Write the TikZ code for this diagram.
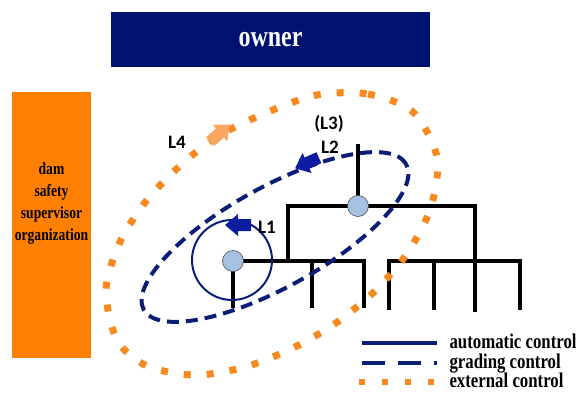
\documentclass[tikz,border=0pt]{standalone}
\usepackage{fontspec}
\newfontfamily\legendfont{Liberation Serif}[FakeStretch=0.8]
\newfontfamily\labelfont{Carlito}
\definecolor{ownerblue}{RGB}{0,18,112}
\definecolor{dssorange}{RGB}{255,128,0}
\definecolor{dotorange}{RGB}{246,138,30}
\definecolor{lightarrow}{RGB}{248,166,96}
\definecolor{navyline}{RGB}{10,30,120}
\definecolor{arrowblue}{RGB}{12,28,160}
\definecolor{jointblue}{RGB}{166,194,226}
\newcommand{\blockarrow}[3]{\fill[#1, shift={#2}, rotate=#3] (-13,-6) -- (0,-6) -- (0,-11) -- (13,0) -- (0,11) -- (0,6) -- (-13,6) -- cycle;}
\tikzset{
  tree/.style={line width=4pt, line join=miter},
  joint/.style={circle, draw=black!70, line width=0.6pt, fill=jointblue, minimum size=21pt, inner sep=0pt},
  autoline/.style={navyline, line width=2pt},
  gradingline/.style={navyline, line width=4pt, dash pattern=on 12pt off 7pt},
  externalline/.style={dotorange, line width=7pt, dash pattern=on 7pt off 16pt},
  loop label/.style={font=\labelfont\bfseries\fontsize{19}{19}\selectfont},
  legend text/.style={anchor=base west, font=\legendfont\bfseries\fontsize{21}{21}\selectfont}
}
\begin{document}
\begin{tikzpicture}[x=1pt,y=-1pt]
  \useasboundingbox (0,0) rectangle (576,394);
  \node[fill=ownerblue, minimum width=319pt, minimum height=55pt, inner sep=0pt, text=white, font=\legendfont\bfseries\fontsize{30}{30}\selectfont] (owner) at (270.5,39.5) {owner}; %Proprietaire
  \node[fill=dssorange, minimum width=79pt, minimum height=266pt, inner sep=0pt] (dsso) at (51.5,225) {}; %Organisme
  \node[align=center, font=\legendfont\bfseries\fontsize{17}{22}\selectfont] (dssotext) at ([yshift=22pt]dsso.center) {dam\\safety\\supervisor\\organization};
  \coordinate (p1) at (233,261);
  \coordinate (p2) at (358,206);
  \draw[tree] (p1) -- (233,308); %Pied gauche
  \draw[tree] (p1) -- (364,261) -- (364,308);
  \draw[tree] (312,261) -- (312,308);
  \draw[tree] (288,261) -- (288,206) -- (475,206) -- (475,312); %Branche haute
  \draw[tree] (p2) -- (358,144);
  \draw[tree] (389,310) -- (389,261) -- (520,261) -- (520,310); %Groupe droit
  \draw[tree] (434,261) -- (434,310);
  \draw[autoline] (232,260) circle[radius=40pt]; %L1
  \draw[gradingline, rotate around={29:(275,237)}] (275,237) ellipse[x radius=150pt, y radius=50pt]; %L2
  \draw[externalline] plot[smooth cycle] coordinates {(317,95) (368,94) (413,112) (437,157) (431,207) (408,252) (376,290) (336,323) (293,348) (245,367) (195,375) (147,366) (117,340) (106,290) (120,242) (147,200) (183,163) (220,135) (268,112)}; %L4
  \node[joint] (joint1) at (p1) {};
  \node[joint] (joint2) at (p2) {};
  \blockarrow{arrowblue}{(238,225)}{180}
  \blockarrow{arrowblue}{(307,163)}{204}
  \blockarrow{lightarrow}{(220,133)}{41}
  \node[loop label] (L1) at (267,227) {L1};
  \node[loop label] (L2) at (330,147) {L2};
  \node[loop label] (L3) at (329,124) {(L3)};
  \node[loop label] (L4) at (177,142) {L4};
  \draw[autoline, line width=3.5pt] (362,343) -- (437,343); %Legende
  \draw[navyline, line width=4.5pt, dash pattern=on 23pt off 13pt] (362,363) -- (437,363);
  \draw[dotorange, line width=6pt, dash pattern=on 6pt off 17pt] (359,382) -- (436,382);
  \node[legend text] (autotext) at (446,348) {automatic control};
  \node[legend text] (gradingtext) at (446,368) {grading control};
  \node[legend text] (externaltext) at (446,387) {external control};
\end{tikzpicture}
\end{document}
